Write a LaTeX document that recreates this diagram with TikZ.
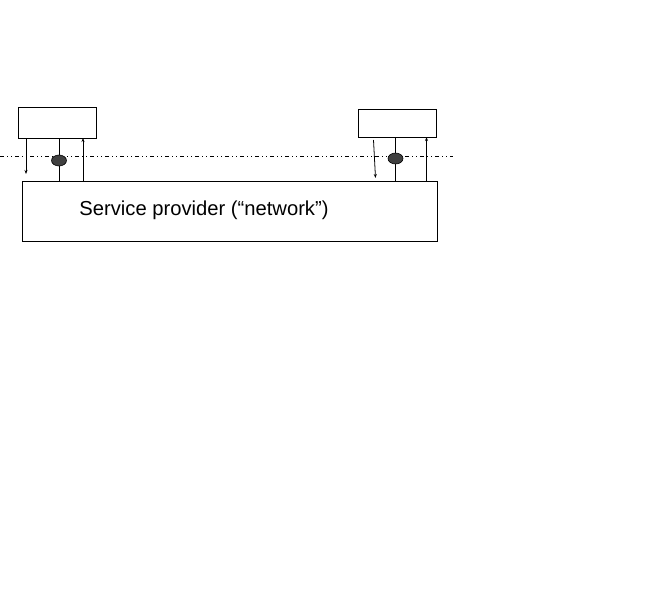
\documentclass[tikz,border=0pt]{standalone}
\usepackage{fontspec}
\setmainfont{Liberation Sans}
\usetikzlibrary{arrows.meta,shapes.geometric}
\begin{document}
\begin{tikzpicture}[x=1pt,y=-1pt,
  boxstyle/.style={draw=black, line width=0.8pt, inner sep=0pt, anchor=north west},
  conn/.style={draw=black, line width=0.8pt},
  arr/.style={conn, -{Stealth[length=4pt,width=3pt]}},
  port/.style={ellipse, draw=black, fill=black!75, line width=0.6pt, minimum width=15pt, minimum height=11pt, inner sep=0pt},
  dashdot/.style={draw=black, line width=0.8pt, dash pattern=on 4pt off 3pt on 1pt off 3pt on 1pt off 3pt}]
\useasboundingbox (0,0) rectangle (663,592);
% boxes
\node[boxstyle, minimum width=78pt, minimum height=31pt] (u1) at (18,107) {};
\node[boxstyle, minimum width=78pt, minimum height=28pt] (u2) at (358,109) {};
\node[boxstyle, minimum width=415pt, minimum height=60pt] (sp) at (22,181) {};
\node[font=\fontsize{20.2}{23}\selectfont, anchor=base] (lbl) at (204,215) {Service provider (“network”)};
% service boundary line
\coordinate (dl) at (0,156);
\coordinate (dr) at (453,156);
\draw[dashdot] (dl) -- (dr);
% left user connectors
\coordinate (a1s) at (26,138);
\coordinate (a1e) at (26,174);
\draw[arr] (a1s) -- (a1e);
\coordinate (m1s) at (59,138);
\coordinate (m1e) at (59,181);
\draw[conn] (m1s) -- (m1e);
\coordinate (b1s) at (83,181);
\coordinate (b1e) at (83,138);
\draw[arr] (b1s) -- (b1e);
\node[port] (p1) at (59,160.5) {};
% right user connectors
\coordinate (a2s) at (373.5,140);
\coordinate (a2e) at (375.5,178);
\draw[arr] (a2s) -- (a2e);
\coordinate (m2s) at (395.5,137);
\coordinate (m2e) at (395.5,181);
\draw[conn] (m2s) -- (m2e);
\coordinate (b2s) at (426.5,181);
\coordinate (b2e) at (426.5,137);
\draw[arr] (b2s) -- (b2e);
\node[port] (p2) at (395.5,158.5) {};
\end{tikzpicture}
\end{document}
